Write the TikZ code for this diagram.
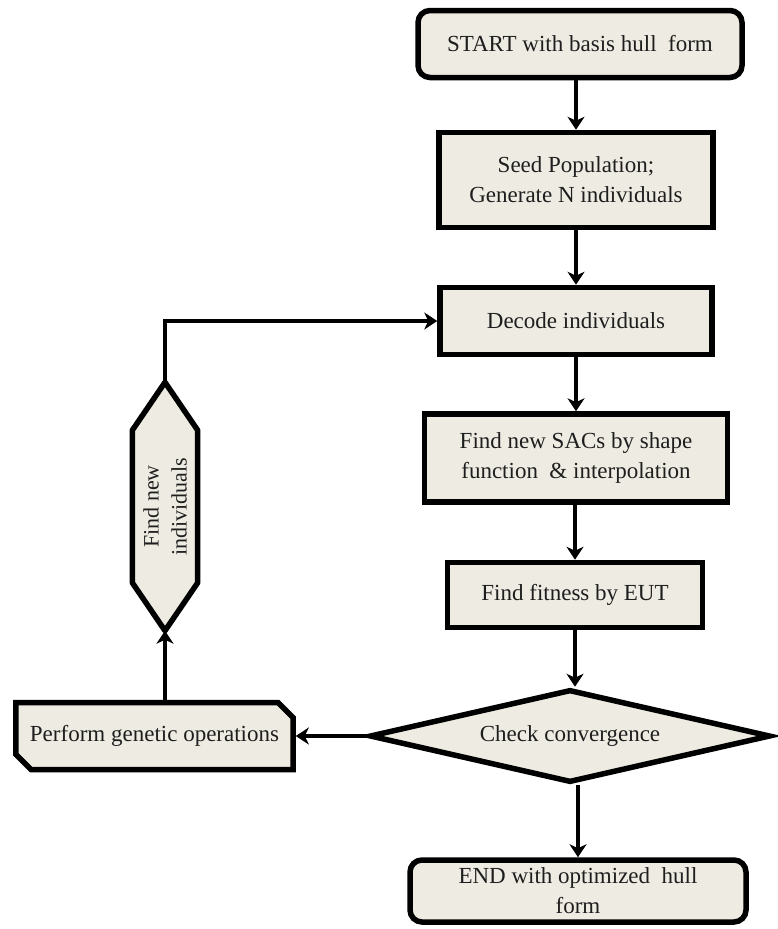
\documentclass[tikz,border=0pt]{standalone}
\usepackage{fontspec}
\setmainfont{Liberation Serif}
\usetikzlibrary{shapes.geometric,shapes.misc,arrows.meta,calc}
\definecolor{boxfill}{RGB}{238,236,226}
\definecolor{txt}{RGB}{30,30,30}
\tikzset{
  box/.style={draw, line width=5.5pt, fill=boxfill, align=center, inner sep=2pt,
    text=txt, font=\fontsize{23pt}{30pt}\selectfont},
  term/.style={box, rounded corners=12pt},
  arr/.style={line width=3.5pt, -{Stealth[length=13pt,width=17pt,inset=4pt]}},
  hexline/.style={draw, line width=5.5pt, fill=boxfill, line join=round},
}
\begin{document}
\begin{tikzpicture}[x=1pt,y=-1pt]
\useasboundingbox (0,0) rectangle (777,929);
\node[term, minimum width=324, minimum height=67] (start) at (580,44) {START with basis hull\ \ form};
\node[box, minimum width=274, minimum height=95] (seed) at (576,180) {Seed Population;\\Generate N individuals};
\node[box, minimum width=272, minimum height=67] (decode) at (576,321) {Decode individuals};
\node[box, minimum width=303, minimum height=88] (sac) at (576,458) {Find new SACs by shape\\function\ \ \& interpolation};
\node[box, minimum width=255, minimum height=65] (fit) at (575,595) {Find fitness by EUT};
\node[box, diamond, aspect=4.14, minimum width=401, minimum height=93, inner sep=0pt] (check) at (570,736) {Check convergence};
\node[term, minimum width=336, minimum height=62] (end) at (578,891) {END with optimized\ \ hull\\form};
\node[box, chamfered rectangle, chamfered rectangle corners={north east,south west},
  chamfered rectangle xsep=12pt, minimum width=270, minimum height=67] (perf) at (154.5,736) {Perform genetic operations};
% hexagon
\node[minimum width=65, minimum height=248, inner sep=0pt] (hex) at (165,506.5) {};
\path[hexline] (hex.north) -- ($(hex.north east)+(0,48)$) -- ($(hex.south east)+(0,-48)$) -- (hex.south)
  -- ($(hex.south west)+(0,-48)$) -- ($(hex.north west)+(0,48)$) -- cycle;
\node[rotate=90, align=center, text=txt, inner sep=0pt, font=\fontsize{22pt}{28pt}\selectfont] (hexlabel) at (hex) {Find new\\individuals};
% connectors
\draw[arr] (start.south -| seed.north) -- (seed.north);
\draw[arr] (seed) -- (decode);
\draw[arr] (decode) -- (sac);
\draw[arr] (sac.south -| fit.north) -- (fit.north);
\draw[arr] (fit.south) -- (fit.south |- check.north);
\draw[arr] (check.south -| end.north) -- (end.north);
\draw[arr] (check.west) -- (perf.east);
\draw[arr] (perf.north -| hex.south) -- (hex.south);
\draw[arr] (hex.north) |- (decode.west);
\end{tikzpicture}
\end{document}
